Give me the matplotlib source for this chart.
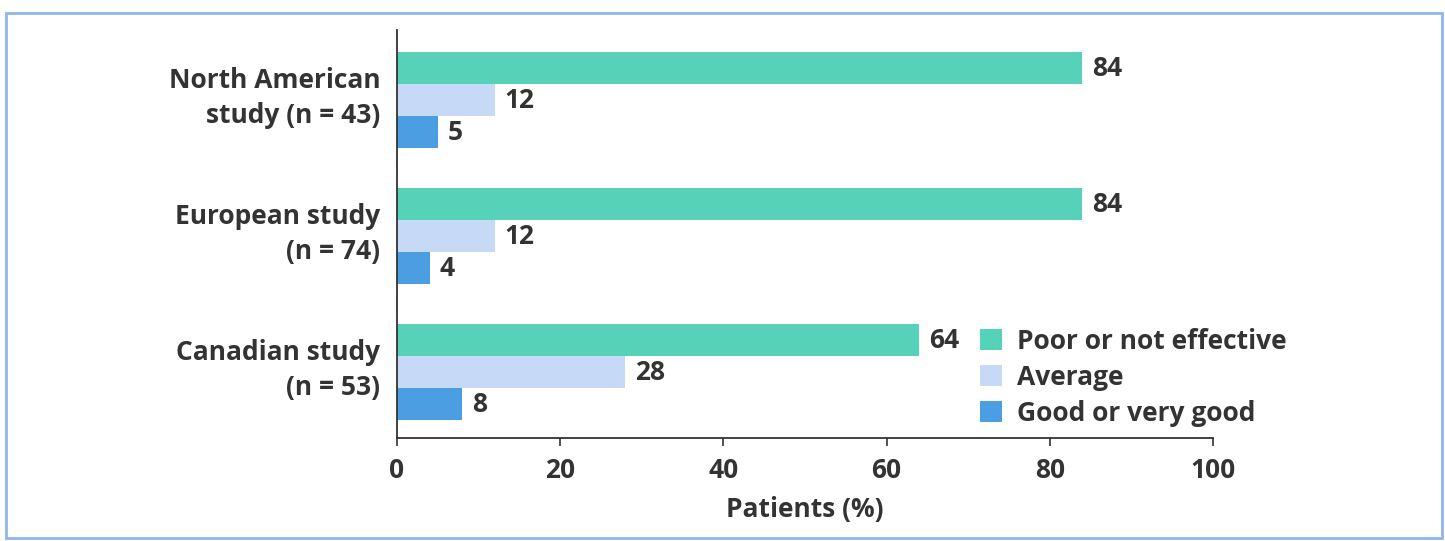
import matplotlib
matplotlib.use("Agg")
import matplotlib.pyplot as plt
from matplotlib.patches import Rectangle

# --- data ---
studies = ["North American\nstudy (n = 43)", "European study\n(n = 74)", "Canadian study\n(n = 53)"]
poor = [84, 84, 64]
average = [12, 12, 28]
good = [5, 4, 8]
series_names = ["Poor or not effective", "Average", "Good or very good"]
x_ticks = [0, 20, 40, 60, 80, 100]

# --- style ---
COLORS = ["#55d2b8", "#c6d9f7", "#4c9ee3"]
TEXT = "#333333"
FS = 19
plt.rcParams["font.family"] = ["Open Sans", "DejaVu Sans"]
plt.rcParams["font.weight"] = "bold"

fig = plt.figure(figsize=(14.45, 5.41), dpi=100)
fig.patch.set_facecolor("white")
ax = fig.add_axes([0.2747, 0.1904, 0.5647, 0.754])

# outer frame
fig.add_artist(Rectangle((6 / 1445, 3 / 541), 1436 / 1445, 525 / 541,
                         transform=fig.transFigure, fill=False,
                         edgecolor="#8fb6ee", linewidth=2))

n = len(studies)
centers = [n - 1 - i for i in range(n)]
h = 0.235
offsets = [h, 0, -h]

bars = []
for k, vals in enumerate([poor, average, good]):
    ys = [c + offsets[k] for c in centers]
    b = ax.barh(ys, vals, height=h, color=COLORS[k], label=series_names[k])
    bars.append(b)
    for y, v in zip(ys, vals):
        ax.annotate(str(v), (v, y), xytext=(7, 0), textcoords="offset points",
                    ha="left", va="center", fontsize=FS, color=TEXT,
                    fontweight="bold")

ax.set_xlim(0, 100)
ax.set_ylim(-0.485, 2.515)
ax.set_xticks(x_ticks)
ax.set_xticklabels([str(t) for t in x_ticks], fontsize=FS, color=TEXT)
# labels sit a little above the middle bar
ax.set_yticks([c + 0.065 for c in centers])
ax.set_yticklabels(studies, fontsize=FS, color=TEXT, ha="right",
                   multialignment="right", linespacing=1.38)
ax.tick_params(axis="y", length=0, pad=12)
ax.tick_params(axis="x", length=6, width=1.2, color=TEXT, pad=8)
ax.set_xlabel("Patients (%)", fontsize=FS, color=TEXT, fontweight="bold", labelpad=8)

for side in ["top", "right"]:
    ax.spines[side].set_visible(False)
for side in ["left", "bottom"]:
    ax.spines[side].set_color(TEXT)
    ax.spines[side].set_linewidth(1.3)

ax.legend(handles=bars, loc="upper left", bbox_to_anchor=(0.714, 0.27),
          frameon=False, fontsize=FS, handlelength=0.85, handleheight=0.85,
          handletextpad=0.55, labelspacing=0.34, borderpad=0, borderaxespad=0,
          labelcolor=TEXT)

fig.savefig("out.png", dpi=100, facecolor="white")
